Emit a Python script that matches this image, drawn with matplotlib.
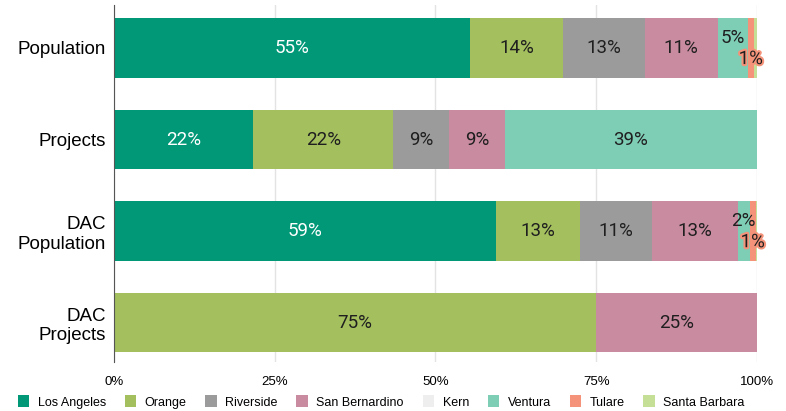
import matplotlib
matplotlib.use("Agg")
import matplotlib.pyplot as plt
import matplotlib.patheffects as pe
from matplotlib.patches import Patch
import numpy as np

plt.rcParams['font.family'] = ['Liberation Sans', 'DejaVu Sans']

categories = ["Population", "Projects", "DAC\nPopulation", "DAC\nProjects"]
counties = ["Los Angeles", "Orange", "Riverside", "San Bernardino", "Kern",
            "Ventura", "Tulare", "Santa Barbara"]
colors = ["#009877", "#a3bf5e", "#9b9b9b", "#c98ba0", "#eeeeee",
          "#7ecdb5", "#f4937a", "#c6df96"]

# share (%) per county, in category order
los_angeles    = [55.4, 21.7, 59.4, 0]
orange         = [14.4, 21.7, 13.1, 75]
riverside      = [12.8, 8.7, 11.2, 0]
san_bernardino = [11.3, 8.7, 13.3, 25]
kern           = [0, 0, 0, 0]
ventura        = [4.7, 39.2, 1.9, 0]
tulare         = [0.9, 0, 0.9, 0]
santa_barbara  = [0.5, 0, 0.2, 0]
series = [los_angeles, orange, riverside, san_bernardino, kern,
          ventura, tulare, santa_barbara]

fig = plt.figure(figsize=(7.86, 4.11), dpi=100)
ax = fig.add_axes([0.145, 0.119, 0.818, 0.869])

y = np.arange(len(categories))
left = np.zeros(len(categories))
for name, vals, col in zip(counties, series, colors):
    vals = np.array(vals, dtype=float)
    ax.barh(y, vals, left=left, height=0.65, color=col, label=name, zorder=2)
    for i, v in enumerate(vals):
        if v < 0.75:
            continue
        cx = left[i] + v / 2
        txt = f"{int(round(v))}%"
        tc = "white" if name == "Los Angeles" else "#1f1f1f"
        dy = 0
        effects = None
        if v < 6 and name == "Ventura":
            dy = 7
        if name == "Tulare":
            dy = -8
            effects = [pe.withStroke(linewidth=3, foreground=col)]
        t = ax.annotate(txt, (cx, i), xytext=(0, dy), textcoords="offset points",
                        ha="center", va="center", color=tc, fontsize=13.5,
                        family=["Roboto", "DejaVu Sans"], zorder=5)
        if effects:
            t.set_path_effects(effects)
    left += vals

ax.set_xlim(0, 100)
ax.set_ylim(3.43, -0.47)
ax.set_yticks(y)
ax.set_yticklabels(categories, fontsize=13.5)
ax.set_xticks([0, 25, 50, 75, 100])
ax.set_xticklabels(["0%", "25%", "50%", "75%", "100%"], fontsize=9.5)
ax.tick_params(axis="y", length=0, pad=6)
ax.tick_params(axis="x", length=0, pad=10)
ax.grid(axis="x", color="#e3e3e3", linewidth=1, zorder=0)
for s in ["top", "right", "bottom"]:
    ax.spines[s].set_visible(False)
ax.spines["left"].set_color("#555555")
ax.spines["left"].set_zorder(3)

handles = [Patch(facecolor=c, edgecolor="none", label=n) for n, c in zip(counties, colors)]
fig.legend(handles=handles, loc="center", bbox_to_anchor=(0.485, 0.022), ncol=8,
           frameon=False, fontsize=9, handlelength=0.9, handleheight=1.1,
           handletextpad=0.7, columnspacing=1.5, borderpad=0)

fig.savefig("out.png", dpi=100)
